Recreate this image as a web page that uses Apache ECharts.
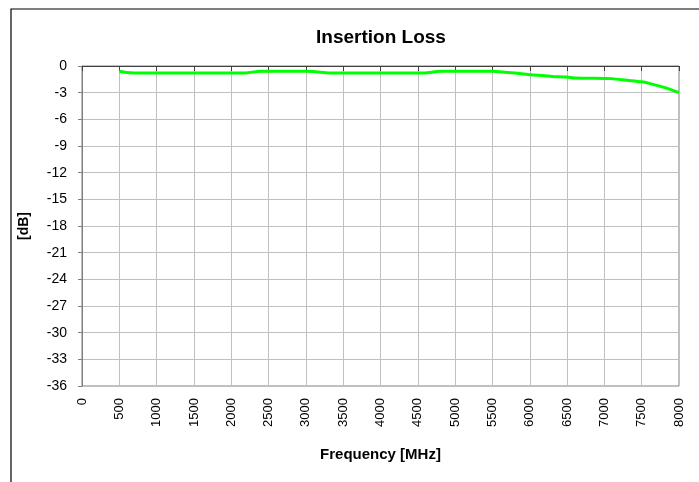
<!DOCTYPE html>
<html><head><meta charset="utf-8">
<script src="https://cdn.jsdelivr.net/npm/echarts@6/dist/echarts.min.js"></script>
<style>html,body{margin:0;padding:0;background:#fff;}#c{width:699px;height:482px;}</style>
</head><body><div id="c"></div>
<script>
const freqMHz = [500,600,700,800,1000,1500,2000,2100,2200,2300,2400,2500,3000,3100,3200,3300,3500,4000,4500,4600,4700,4800,5000,5500,5600,5800,6000,6200,6300,6500,6600,7000,7100,7300,7500,7600,7800,8000];
const lossDb = [-0.6,-0.72,-0.78,-0.8,-0.8,-0.8,-0.8,-0.8,-0.78,-0.66,-0.6,-0.6,-0.6,-0.62,-0.7,-0.78,-0.8,-0.8,-0.8,-0.78,-0.68,-0.6,-0.6,-0.6,-0.65,-0.8,-0.98,-1.1,-1.18,-1.25,-1.36,-1.4,-1.42,-1.6,-1.78,-1.95,-2.4,-3.0];
const yTicks = [0,-3,-6,-9,-12,-15,-18,-21,-24,-27,-30,-33,-36];
const chart = echarts.init(document.getElementById('c'));
const F = 'Liberation Sans, Arial, sans-serif';
chart.setOption({
  animation:false,
  backgroundColor:'#fff',
  graphic:[{type:'rect',shape:{x:11,y:9,width:720,height:520},style:{fill:'none',stroke:'#000',lineWidth:1.2},silent:true}],
  title:{text:'Insertion Loss',left:376,top:23,textAlign:'center',textStyle:{fontFamily:F,fontSize:19,fontWeight:'bold',color:'#000'}},
  grid:{left:82,right:20,top:66,bottom:96,show:true,borderColor:'#808080',borderWidth:1,containLabel:false},
  xAxis:{type:'value',min:0,max:8000,interval:500,
    name:'Frequency [MHz]',nameLocation:'middle',nameGap:61,
    nameTextStyle:{fontFamily:F,fontSize:15,fontWeight:'bold',color:'#000'},
    axisLine:{show:true,lineStyle:{color:'#404040',width:1}},
    axisTick:{show:true,inside:false,length:5,lineStyle:{color:'#404040'}},
    axisLabel:{rotate:90,fontFamily:F,fontSize:13,color:'#000',margin:12,formatter:function(v){return String(v);}},
    splitLine:{show:true,lineStyle:{color:'#c0c0c0',width:1}}},
  yAxis:{type:'value',min:-36,max:0,interval:3,
    name:'[dB]',nameLocation:'middle',nameGap:51,nameRotate:90,
    nameTextStyle:{fontFamily:F,fontSize:14,fontWeight:'bold',color:'#000'},
    axisLine:{show:true,lineStyle:{color:'#808080',width:1}},
    axisTick:{show:true,inside:false,length:4,lineStyle:{color:'#808080'}},
    axisLabel:{fontFamily:F,fontSize:14,color:'#000',margin:15,
      formatter:function(v){return yTicks.indexOf(v)>=0?String(v):'';}},
    splitLine:{show:true,lineStyle:{color:'#c0c0c0',width:1}}},
  series:[{type:'line',data:freqMHz.map((f,i)=>[f,lossDb[i]]),smooth:0.3,showSymbol:false,
    lineStyle:{color:'#00ff00',width:3},itemStyle:{color:'#00ff00'}}]
});
</script></body></html>
